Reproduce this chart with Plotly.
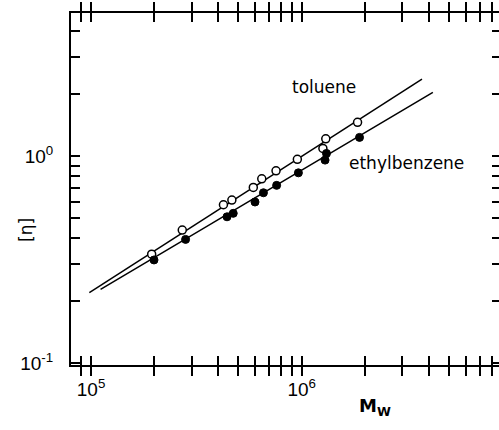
import numpy as np
import plotly.graph_objects as go

# ---- data ----
tol_M = [1.94e5, 2.71e5, 4.25e5, 4.66e5, 5.89e5, 6.46e5, 7.55e5, 9.53e5, 1.26e6, 1.30e6, 1.84e6]
tol_eta = [0.336, 0.439, 0.582, 0.613, 0.706, 0.777, 0.849, 0.964, 1.089, 1.212, 1.455]

eb_M = [1.99e5, 2.81e5, 4.42e5, 4.73e5, 6.00e5, 6.58e5, 7.60e5, 9.64e5, 1.29e6, 1.31e6, 1.88e6]
eb_eta = [0.315, 0.396, 0.509, 0.529, 0.600, 0.665, 0.722, 0.830, 0.956, 1.03, 1.231]

tol_fit_M = [0.982e5, 3.72e6]
tol_fit_eta = [0.219, 2.355]
eb_fit_M = [1.11e5, 4.19e6]
eb_fit_eta = [0.227, 2.03]

x_tickvals = [9e4, 1e5, 2e5, 3e5, 4e5, 5e5, 6e5, 7e5, 8e5, 9e5, 1e6,
              2e6, 3e6, 4e6, 5e6, 6e6, 7e6, 8e6, 9e6]
x_ticktext = ["", "10<sup>5</sup>", "", "", "", "", "", "", "", "", "10<sup>6</sup>",
              "", "", "", "", "", "", "", ""]
y_tickvals = [0.1, 0.2, 0.3, 0.4, 0.5, 0.6, 0.7, 0.8, 0.9, 1.0, 2.0, 3.0, 4.0]
y_ticktext = ["10<sup>-1</sup>", "", "", "", "", "", "", "", "", "10<sup>0</sup>", "", "", ""]

series_labels = ["toluene", "ethylbenzene"]
label_pos = [(6.106, 0.333), (6.495, -0.034)]  # log10 coordinates

TICKFONT = "Liberation Sans"
LABFONT = "DejaVu Sans"
BLACK = "black"

fig = go.Figure()
fig.add_trace(go.Scatter(x=tol_fit_M, y=tol_fit_eta, mode="lines",
                         line=dict(color=BLACK, width=1.5), showlegend=False))
fig.add_trace(go.Scatter(x=eb_fit_M, y=eb_fit_eta, mode="lines",
                         line=dict(color=BLACK, width=1.5), showlegend=False))
fig.add_trace(go.Scatter(x=tol_M, y=tol_eta, mode="markers",
                         marker=dict(symbol="circle", size=8, color="white",
                                     line=dict(color=BLACK, width=1.5)),
                         showlegend=False))
fig.add_trace(go.Scatter(x=eb_M, y=eb_eta, mode="markers",
                         marker=dict(symbol="circle", size=8, color=BLACK,
                                     line=dict(color=BLACK, width=1)),
                         showlegend=False))
# invisible trace on right axis to show mirrored ticks without a spine
fig.add_trace(go.Scatter(x=[tol_M[0]], y=[tol_eta[0]], yaxis="y2", mode="markers",
                         marker=dict(opacity=0), showlegend=False, hoverinfo="skip"))

for (lab, (lx, ly)) in zip(series_labels, label_pos):
    fig.add_annotation(x=lx, y=ly, xref="x", yref="y", text=lab, showarrow=False,
                       font=dict(family=LABFONT, size=17, color=BLACK))

fig.add_annotation(x=-0.133, y=0.384, xref="paper", yref="paper", text="[η]",
                   textangle=-90, showarrow=False,
                   font=dict(family=LABFONT, size=17, color=BLACK))
fig.add_annotation(x=0.752, y=-0.158, xref="paper", yref="paper",
                   text="<b>M<sub>W</sub></b>",
                   showarrow=False, font=dict(family=LABFONT, size=18, color=BLACK))

fig.update_layout(
    width=499, height=430,
    margin=dict(l=71, r=0, t=13, b=65),
    paper_bgcolor="white", plot_bgcolor="white",
    font=dict(family=TICKFONT, size=19, color=BLACK),
    xaxis=dict(type="log", range=[4.905, 6.936], showgrid=False, zeroline=False,
               showline=True, linecolor=BLACK, linewidth=2, mirror="allticks",
               ticks="inside", ticklen=9, tickwidth=1.5, tickcolor=BLACK,
               tickvals=x_tickvals, ticktext=x_ticktext, ticklabelstandoff=6,
               tickfont=dict(family=TICKFONT, size=19, color=BLACK)),
    yaxis=dict(type="log", range=[-1.009, 0.691], showgrid=False, zeroline=False,
               showline=True, linecolor=BLACK, linewidth=2,
               ticks="inside", ticklen=9, tickwidth=1.5, tickcolor=BLACK,
               tickvals=y_tickvals, ticktext=y_ticktext, ticklabelstandoff=12,
               tickfont=dict(family=TICKFONT, size=19, color=BLACK)),
    yaxis2=dict(type="log", range=[-1.009, 0.691], overlaying="y", side="right",
                showgrid=False, zeroline=False, showline=False,
                ticks="inside", ticklen=7, tickwidth=1.5, tickcolor=BLACK,
                tickvals=y_tickvals, showticklabels=False),
)

fig.write_html("out.html")
